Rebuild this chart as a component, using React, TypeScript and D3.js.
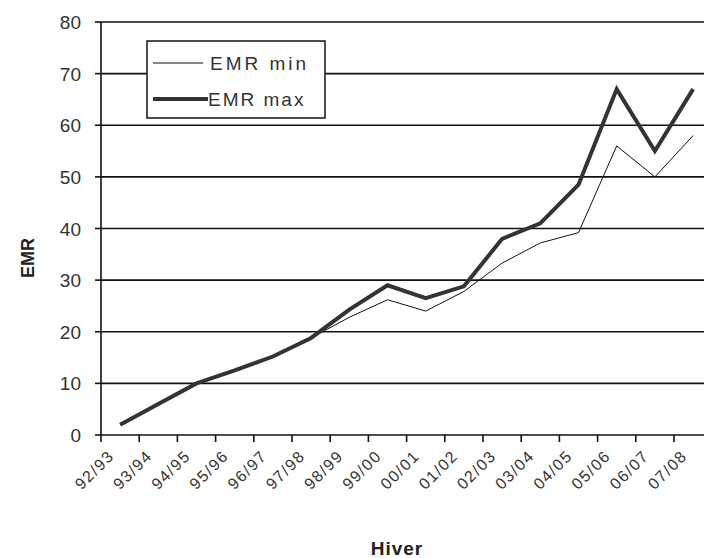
import React from "react";
import * as d3 from "d3";

const categories = ["92/93","93/94","94/95","95/96","96/97","97/98","98/99","99/00","00/01","01/02","02/03","03/04","04/05","05/06","06/07","07/08"];
const emrMin = [2, 6, 10, 12.5, 15.2, 18.8, 22.8, 26.2, 24, 27.8, 33.3, 37.2, 39.2, 56, 50, 58];
const emrMax = [2, 6, 10, 12.5, 15.2, 18.8, 24.3, 29, 26.5, 28.8, 38, 41, 48.5, 67, 55, 67];
const yTicks = [0, 10, 20, 30, 40, 50, 60, 70, 80];

const W = 704, H = 558;
const left = 101, top = 22, bottom = 435;
const step = 38.2;
const right = left + step * categories.length;

export default function App() {
  const x = d3.scaleBand<string>().domain(categories).range([left, right]).padding(0);
  const y = d3.scaleLinear().domain([0, 80]).range([bottom, top]);
  const cx = (c: string) => (x(c) as number) + x.bandwidth() / 2;
  const line = d3.line<number>().x((_, i) => cx(categories[i])).y((d) => y(d));
  const font = "Arial, 'Liberation Sans', sans-serif";
  return (
    <svg width={W} height={H} style={{ position: "absolute", left: 0, top: 0, background: "#fff" }} fontFamily={font}>
      <rect x={0} y={0} width={W} height={H} fill="#fff" />
      {yTicks.map((t) => (
        <g key={t}>
          {t > 0 && <line x1={left} x2={W} y1={y(t)} y2={y(t)} stroke="#111" strokeWidth={1.6} />}
          <line x1={left - 6} x2={left} y1={y(t)} y2={y(t)} stroke="#111" strokeWidth={1.6} />
          <text x={81} y={y(t) + 7} textAnchor="end" fontSize={19} fill="#333">{t}</text>
        </g>
      ))}
      <line x1={left} x2={left} y1={top} y2={bottom} stroke="#111" strokeWidth={1.6} />
      <line x1={left} x2={W} y1={bottom} y2={bottom} stroke="#111" strokeWidth={1.6} />
      {d3.range(categories.length + 1).map((i) => (
        <line key={i} x1={left + i * step} x2={left + i * step} y1={bottom} y2={bottom + 7} stroke="#111" strokeWidth={1.6} />
      ))}
      {categories.map((c) => (
        <text key={c} transform={`translate(${cx(c) - 5},${bottom + 22}) rotate(-45)`} textAnchor="end" fontSize={16} letterSpacing={1.5} fill="#333">{c}</text>
      ))}
      <path d={line(emrMin) || ""} fill="none" stroke="#111" strokeWidth={1} />
      <path d={line(emrMax) || ""} fill="none" stroke="#333" strokeWidth={4} strokeLinejoin="miter" />
      <g>
        <rect x={147} y={41} width={178} height={77} fill="#fff" stroke="#111" strokeWidth={1.5} />
        <line x1={153} x2={203} y1={63} y2={63} stroke="#111" strokeWidth={1} />
        <line x1={153} x2={208} y1={99} y2={99} stroke="#333" strokeWidth={4} />
        <text x={210} y={70} fontSize={19} letterSpacing={3} fill="#333">EMR min</text>
        <text x={208} y={106} fontSize={19} letterSpacing={2} fill="#333">EMR max</text>
      </g>
      <text transform={`translate(34,258) rotate(-90)`} textAnchor="middle" fontSize={18} fontWeight="bold" fill="#222">EMR</text>
      <text x={397} y={555} textAnchor="middle" fontSize={19} fontWeight="bold" letterSpacing={1} fill="#222">Hiver</text>
    </svg>
  );
}
